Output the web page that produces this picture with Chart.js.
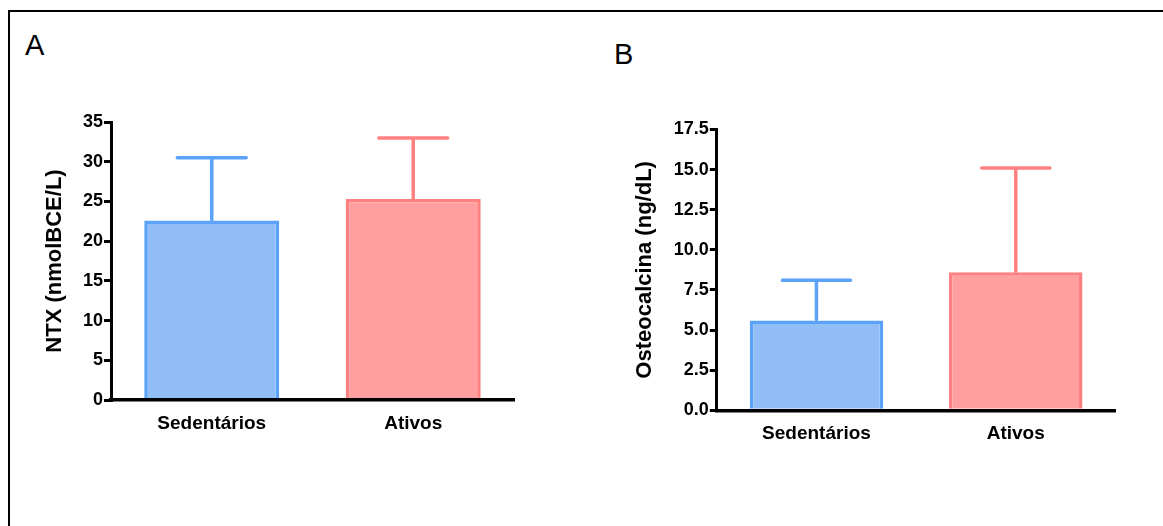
<!DOCTYPE html>
<html>
<head>
<meta charset="utf-8">
<script src="https://cdn.jsdelivr.net/npm/chart.js@4.4.1/dist/chart.umd.min.js"></script>
<style>
  html, body { margin: 0; padding: 0; background: #fff; }
  body { width: 1163px; height: 526px; position: relative; overflow: hidden; }
  #frame { position: absolute; left: 8px; top: 10px; width: 1300px; height: 700px; border: 2px solid #000; }
  .panel { position: absolute; top: 0; }
  .letter { position: absolute; font: 29px 'Liberation Sans', Arial, sans-serif; line-height: 29px; color: #000; }
</style>
</head>
<body>
<div id="frame"></div>
<div class="letter" style="left:25px;top:31px">A</div>
<div class="letter" style="left:614px;top:40px">B</div>
<canvas id="ntxChart" class="panel" style="left:0" width="580" height="526"></canvas>
<canvas id="oscChart" class="panel" style="left:580px" width="583" height="526"></canvas>
<script>
'use strict';

// ── Data ──────────────────────────────────────────────────────
const categories = ['Sedentários', 'Ativos'];

const ntxMean = [22.6, 25.3];
const ntxErr  = [7.9, 7.7];
const ntxTicks = [0, 5, 10, 15, 20, 25, 30, 35];

const oscMean = [5.6, 8.6];
const oscErr  = [2.5, 6.5];
const oscTicks = [0, 2.5, 5, 7.5, 10, 12.5, 15, 17.5];

const fillColors   = ['#92BEF8', '#FF9F9F'];
const borderColors = ['#5AA2FA', '#FF8080'];

// ── Error bars (mean + SEM, upper only) ───────────────────────
const errorBars = {
  id: 'errorBars',
  afterDatasetsDraw(chart, args, opts) {
    const { ctx } = chart;
    const yScale = chart.scales.y;
    const meta = chart.getDatasetMeta(0);
    ctx.save();
    ctx.lineWidth = 3.5;
    ctx.lineCap = 'round';
    meta.data.forEach((bar, i) => {
      const top  = yScale.getPixelForValue(opts.means[i] + opts.errs[i]);
      const base = yScale.getPixelForValue(opts.means[i]);
      const half = bar.width * 0.255;
      ctx.strokeStyle = borderColors[i];
      ctx.beginPath();
      ctx.moveTo(bar.x, base - 1);
      ctx.lineTo(bar.x, top);
      ctx.moveTo(bar.x - half, top);
      ctx.lineTo(bar.x + half, top);
      ctx.stroke();
    });
    ctx.restore();
  }
};

function makeChart(id, means, errs, ticks, yTitle, box, decimals) {
  const tickFont = { family: "'Liberation Sans', Arial, sans-serif", size: 18, weight: 'bold' };
  return new Chart(document.getElementById(id), {
    type: 'bar',
    data: {
      labels: categories,
      datasets: [{
        data: means,
        backgroundColor: fillColors,
        borderColor: borderColors,
        borderWidth: 3.5,
        borderSkipped: 'start',
        barPercentage: 0.67,
        categoryPercentage: 1
      }]
    },
    options: {
      responsive: false,
      animation: false,
      devicePixelRatio: 1,
      layout: { padding: { left: 0, top: box.top, right: box.right, bottom: 0 } },
      plugins: {
        legend: { display: false },
        tooltip: { enabled: false },
        errorBars: { means, errs }
      },
      scales: {
        x: {
          grid: { display: false, drawTicks: false },
          border: { display: true, color: '#000', width: 3.5, z: 1 },
          ticks: { color: '#000', padding: 12, font: { ...tickFont, size: 19 } },
          afterFit: s => { s.height = box.xHeight; }
        },
        y: {
          min: ticks[0],
          max: ticks[ticks.length - 1],
          afterBuildTicks: s => { s.ticks = ticks.map(v => ({ value: v })); },
          grid: { drawOnChartArea: false, drawTicks: true, tickLength: 7, color: '#000', lineWidth: 3 },
          border: { display: true, color: '#000', width: 3 },
          ticks: {
            color: '#000',
            padding: 1,
            font: tickFont,
            callback: v => decimals ? Number(v).toFixed(decimals) : String(v)
          },
          title: {
            display: true,
            text: yTitle,
            color: '#000',
            font: { family: "'Liberation Sans', Arial, sans-serif", size: 22, weight: 'bold' },
            padding: { top: box.titlePad, bottom: 0 }
          },
          afterFit: s => { s.width = box.yWidth; }
        }
      }
    },
    plugins: [errorBars]
  });
}

makeChart('ntxChart', ntxMean, ntxErr, ntxTicks, 'NTX (nmolBCE/L)',
  { top: 122, right: 66, xHeight: 126, yWidth: 111, titlePad: 42 }, 0);

makeChart('oscChart', oscMean, oscErr, oscTicks, 'Osteocalcina (ng/dL)',
  { top: 129.5, right: 47.6, xHeight: 115.7, yWidth: 136.8, titlePad: 52 }, 1);
</script>
</body>
</html>
